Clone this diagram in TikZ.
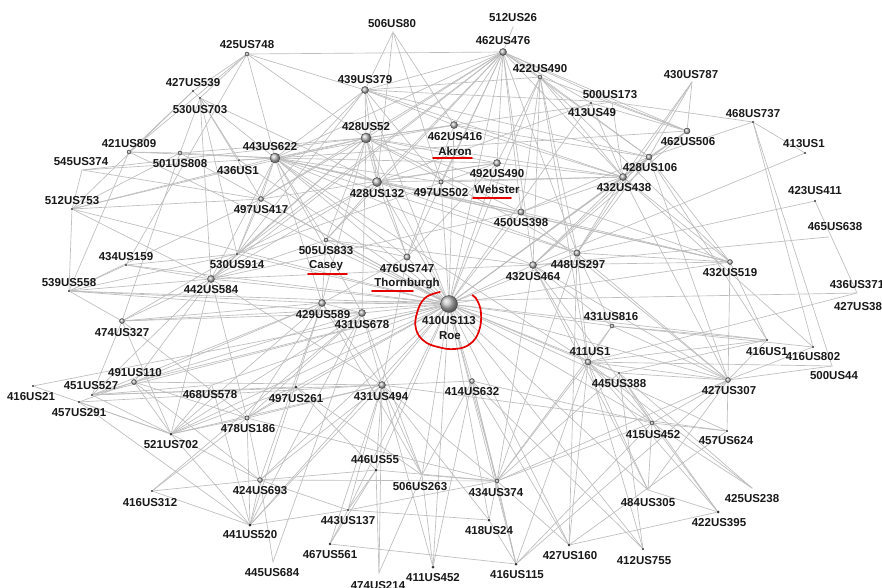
\documentclass[tikz,border=0pt]{standalone}
\usepackage{fontspec}
\setmainfont{Liberation Sans}
\pgfdeclarelayer{bg}
\pgfsetlayers{bg,main}
\tikzset{
  ball/.style={circle, inner sep=0pt, minimum size=2*#1pt, ball color=gray!50, draw=black!75, line width=0.4pt},
  sdot/.style={circle, inner sep=0pt, minimum size=2*#1pt, fill=black!80},
  gdot/.style={circle, inner sep=0pt, minimum size=1.2pt, fill=gray!70},
  lab/.style={inner sep=0pt, font=\bfseries\fontsize{11.5}{12}\selectfont, text=black!90},
  edge/.style={draw=gray!52, line width=0.65pt},
  redmark/.style={draw=red!90!black, line width=1.7pt, line cap=round}
}
\newcommand\mk[6]{\node[#4] (#1) at (#2,-#3) {}; \node[lab] (L#1) at (#5,-#6) {#1};}
\begin{document}
\begin{tikzpicture}[x=1pt,y=1pt]
\useasboundingbox (0,0) rectangle (882,-587);
\mk{425US748}{247}{54}{ball=2}{247}{45}
\mk{427US539}{193}{91}{sdot=1.1}{193}{83}
\mk{530US703}{200}{98}{sdot=1.2}{200}{110}
\mk{421US809}{129}{152}{ball=2}{129}{144}
\mk{545US374}{82}{170}{gdot}{81}{162}
\mk{501US808}{180}{153}{ball=2}{180}{164}
\mk{436US1}{239}{160}{sdot=1}{238}{171}
\mk{443US622}{275}{158}{ball=5}{270}{147}
\mk{512US753}{72}{209}{sdot=1.2}{72}{201}
\mk{497US417}{261}{199}{ball=2.5}{261}{210}
\mk{434US159}{126}{265}{sdot=1.2}{126}{257}
\mk{530US914}{237}{254}{sdot=1.2}{237}{265}
\mk{539US558}{69}{291}{sdot=1.2}{69}{283}
\mk{442US584}{211}{279}{ball=3.5}{211}{290}
\mk{474US327}{122}{321}{ball=2.5}{122}{333}
\mk{491US110}{134}{382}{ball=2.5}{135}{373}
\mk{416US21}{33}{386}{sdot=1.2}{31}{397}
\mk{451US527}{92}{395}{sdot=1.2}{91}{386}
\mk{457US291}{79}{402}{sdot=1.2}{79}{413}
\mk{468US578}{212}{385}{gdot}{210}{395}
\mk{497US261}{296}{387}{sdot=1.5}{296}{399}
\mk{478US186}{247}{418}{ball=2.2}{248}{429}
\mk{521US702}{171}{434}{sdot=1.5}{171}{445}
\mk{424US693}{260}{480}{ball=2.5}{260}{491}
\mk{416US312}{152}{491}{sdot=1.2}{150}{503}
\mk{441US520}{250}{525}{sdot=1.6}{250}{535}
\mk{445US684}{273}{562}{gdot}{272}{573}
\mk{446US55}{376}{470}{sdot=1.5}{375}{460}
\mk{506US263}{422}{475}{gdot}{420}{487}
\mk{434US374}{497}{481}{ball=2}{496}{493}
\mk{443US137}{348}{510}{sdot=1.2}{348}{521}
\mk{418US24}{489}{520}{sdot=1.5}{489}{531}
\mk{467US561}{330}{544}{sdot=1.3}{330}{555}
\mk{427US160}{569}{545}{sdot=1.3}{570}{556}
\mk{416US115}{516}{564}{sdot=1.5}{517}{575}
\mk{411US452}{433}{567}{sdot=1.5}{433}{578}
\mk{474US214}{379}{573}{gdot}{378}{586}
\mk{412US755}{643}{549}{sdot=1.2}{644}{561}
\mk{484US305}{648}{490}{gdot}{648}{503}
\mk{422US395}{718}{512}{sdot=1.5}{719}{523}
\mk{425US238}{752}{488}{gdot}{752}{499}
\mk{415US452}{652}{423}{ball=2}{653}{435}
\mk{457US624}{727}{431}{sdot=1.2}{726}{441}
\mk{427US307}{728}{380}{ball=2.5}{729}{391}
\mk{445US388}{619}{373}{sdot=1.2}{619}{384}
\mk{411US1}{588}{362}{ball=3}{590}{352}
\mk{431US816}{612}{326}{ball=2}{611}{317}
\mk{416US1}{767}{340}{sdot=1.2}{767}{352}
\mk{416US802}{813}{347}{sdot=1.2}{813}{357}
\mk{500US44}{832}{366}{gdot}{834}{376}
\mk{432US519}{730}{262}{ball=2.5}{730}{273}
\mk{436US371}{857}{293}{gdot}{857}{285}
\node[lab] (L427US38) at (858,-307) {427US38};
\mk{423US411}{815}{201}{sdot=1.2}{815}{191}
\mk{465US638}{828}{237}{gdot}{835}{227}
\mk{413US1}{805}{153}{sdot=1.1}{804}{144}
\mk{468US737}{753}{122}{sdot=1.1}{753}{114}
\mk{430US787}{692}{82}{gdot}{691}{75}
\mk{462US506}{687}{131}{ball=3}{688}{142}
\mk{428US106}{649}{157}{ball=3}{650}{168}
\mk{432US438}{623}{177}{ball=3.5}{624}{188}
\mk{500US173}{612}{102}{gdot}{610}{95}
\mk{413US49}{591}{103}{sdot=1.2}{592}{113}
\mk{422US490}{540}{77}{ball=2}{540}{69}
\mk{462US476}{503}{52}{ball=3.5}{503}{41}
\mk{512US26}{513}{27}{gdot}{513}{18}
\mk{506US80}{393}{32}{gdot}{392}{24}
\mk{439US379}{365}{90}{ball=3.5}{365}{80}
\mk{428US52}{366}{138}{ball=5}{366}{127}
\mk{462US416}{454}{125}{ball=3.5}{455}{137}
\mk{492US490}{497}{163}{ball=3.5}{497}{174}
\mk{428US132}{377}{182}{ball=4.5}{377}{194}
\mk{497US502}{441}{182}{ball=2.2}{441}{193}
\mk{450US398}{521}{212}{ball=3.2}{521}{223}
\mk{505US833}{326}{240}{ball=2}{326}{251}
\mk{476US747}{407}{257}{ball=3.2}{407}{269}
\mk{410US113}{449}{304}{ball=8.5}{449}{321}
\mk{448US297}{577}{253}{ball=3.2}{578}{265}
\mk{432US464}{533}{265}{ball=3.5}{533}{277}
\mk{429US589}{322}{303}{ball=3.5}{323}{315}
\mk{431US678}{362}{313}{ball=3.5}{362}{325}
\mk{431US494}{382}{385}{ball=3.5}{381}{397}
\mk{414US632}{472}{381}{ball=2.5}{472}{392}
% names
\node[lab] (akron) at (455,-151) {Akron};
\node[lab] (webster) at (497,-189) {Webster};
\node[lab] (casey) at (326,-266) {Casey};
\node[lab] (thorn) at (407,-284) {Thornburgh};
\node[lab] (roe) at (450,-336) {Roe};
\draw[redmark] (433,-158) -- (472,-158);
\draw[redmark] (473,-198) -- (511,-198);
\draw[redmark] (308,-274) -- (347,-274);
\draw[redmark] (372,-291) -- (413,-291);
\draw[redmark] plot[smooth, tension=0.7] coordinates {(440,-292) (425,-298) (417,-313) (416,-329) (424,-341) (438,-347) (455,-349) (470,-344) (479,-331) (481,-313) (477,-300) (472,-295) (476,-298)};
\begin{pgfonlayer}{bg}
\fill[white] (0,0) rectangle (882,-587);
\foreach \b in {462US476,462US416,428US52,439US379,443US622,497US417,530US914,442US584,539US558,474US327,491US110,451US527,521US702,478US186,424US693,441US520,443US137,446US55,506US263,434US374,418US24,416US115,427US160,415US452,427US307,445US388,411US1,431US816,432US519,416US1,432US464,448US297,450US398,432US438,428US106,462US506,492US490,497US502,428US132,476US747,505US833,429US589,431US678,431US494,414US632,413US49,422US490,501US808,421US809,512US753,434US159,457US624,484US305,412US755,416US21,497US261,468US578,436US1,411US452}
  \draw[edge] (410US113) -- (\b);
\foreach \b in {439US379,428US52,462US416,428US132,497US502,492US490,450US398,432US438,428US106,462US506,443US622,476US747,505US833,432US464,448US297,422US490,413US49,512US26,530US914,497US417,442US584,500US173,425US748}
  \draw[edge] (462US476) -- (\b);
\foreach \b in {425US748,530US703,439US379,428US52,462US416,428US132,497US417,530US914,505US833,476US747,442US584,429US589,431US678,436US1,501US808,421US809,545US374,512US753,448US297,450US398,432US464,492US490,411US1,497US502,462US506,432US519}
  \draw[edge] (443US622) -- (\b);
\foreach \b in {439US379,425US748,428US132,505US833,476US747,429US589,431US678,432US438,462US416,492US490,450US398,497US417,530US914,442US584,501US808,545US374,432US519,448US297,512US753}
  \draw[edge] (428US52) -- (\b);
\foreach \a/\b in {
 439US379/425US748,439US379/506US80,439US379/432US438,439US379/428US106,439US379/462US416,439US379/497US502,439US379/530US914,439US379/428US132,439US379/422US490,
 506US80/462US416,506US80/428US132,506US80/497US502,
 422US490/432US438,422US490/428US106,422US490/492US490,422US490/450US398,422US490/432US464,422US490/448US297,422US490/411US1,422US490/432US519,422US490/462US506,
 500US173/468US737,500US173/462US506,500US173/432US438,500US173/428US52,500US173/439US379,
 430US787/428US106,430US787/432US438,430US787/462US506,430US787/448US297,
 468US737/413US1,468US737/428US106,468US737/416US802,468US737/500US44,
 413US1/432US464,423US411/436US371,423US411/448US297,465US638/432US464,
 432US519/432US438,432US519/428US106,432US519/450US398,432US519/448US297,432US519/432US464,432US519/416US1,432US519/427US307,432US519/428US132,
 436US371/429US589,436US371/411US1,
 416US1/431US816,416US1/411US1,416US1/427US307,416US1/445US388,416US1/428US106,
 416US802/431US816,416US802/427US307,416US802/432US438,
 500US44/427US307,500US44/411US1,
 427US307/411US1,427US307/445US388,427US307/415US452,427US307/432US438,427US307/448US297,427US307/432US464,427US307/428US106,427US307/457US624,427US307/484US305,427US307/434US374,427US307/431US816,427US307/450US398,
 415US452/411US1,415US452/445US388,415US452/457US624,415US452/484US305,415US452/422US395,415US452/425US238,415US452/432US464,415US452/434US374,415US452/414US632,415US452/416US115,
 457US624/427US160,457US624/431US494,
 484US305/422US395,484US305/411US1,484US305/432US464,
 422US395/427US160,422US395/445US388,422US395/411US1,425US238/445US388,425US238/411US1,
 412US755/414US632,412US755/411US1,
 427US160/434US374,427US160/414US632,427US160/448US297,427US160/411US1,
 416US115/434US374,416US115/418US24,416US115/427US307,416US115/467US561,416US115/414US632,416US115/411US1,
 434US374/414US632,434US374/431US494,434US374/418US24,434US374/446US55,434US374/443US137,434US374/506US263,434US374/411US1,434US374/445US388,434US374/432US464,434US374/448US297,434US374/431US816,434US374/424US693,434US374/478US186,
 418US24/443US137,418US24/431US494,
 411US452/506US263,411US452/431US494,411US452/414US632,
 474US214/431US494,474US214/506US263,474US214/446US55,
 446US55/431US494,446US55/443US137,446US55/467US561,446US55/497US261,
 506US263/431US494,506US263/429US589,506US263/431US678,506US263/497US261,506US263/414US632,
 443US137/467US561,443US137/431US494,443US137/424US693,443US137/441US520,
 441US520/424US693,441US520/416US312,441US520/457US291,441US520/521US702,441US520/478US186,441US520/431US494,441US520/431US678,441US520/468US578,441US520/429US589,
 445US684/431US678,445US684/424US693,
 424US693/416US312,424US693/478US186,424US693/431US494,424US693/521US702,424US693/491US110,424US693/429US589,424US693/446US55,
 416US312/478US186,416US312/431US678,
 521US702/451US527,521US702/457US291,521US702/491US110,521US702/468US578,521US702/478US186,521US702/474US327,521US702/442US584,521US702/429US589,521US702/431US678,521US702/497US261,521US702/431US494,521US702/416US21,
 478US186/491US110,478US186/431US494,478US186/429US589,478US186/431US678,478US186/474US327,478US186/442US584,478US186/497US261,
 451US527/491US110,451US527/468US578,451US527/497US261,451US527/431US494,451US527/429US589,451US527/442US584,
 457US291/491US110,457US291/431US494,
 491US110/431US678,491US110/429US589,
 474US327/539US558,474US327/501US808,474US327/442US584,474US327/530US914,474US327/429US589,474US327/431US678,474US327/451US527,
 539US558/512US753,539US558/442US584,539US558/530US914,539US558/431US678,539US558/429US589,539US558/421US809,539US558/497US417,539US558/434US159,
 512US753/501US808,512US753/497US417,512US753/545US374,512US753/442US584,
 545US374/497US417,
 434US159/530US914,434US159/442US584,434US159/425US748,
 530US914/428US132,530US914/492US490,530US914/442US584,530US914/497US417,
 442US584/428US132,442US584/450US398,442US584/432US464,442US584/491US110,442US584/505US833,
 421US809/425US748,421US809/501US808,421US809/427US539,
 501US808/530US703,
 530US703/425US748,530US703/427US539,530US703/497US417,530US703/530US914,530US703/442US584,530US703/428US132,
 427US539/425US748,427US539/512US753,436US1/530US703,
 497US417/439US379,497US417/492US490,
 505US833/476US747,505US833/429US589,505US833/432US464,505US833/428US132,
 476US747/428US132,476US747/492US490,476US747/462US416,476US747/431US494,476US747/429US589,
 428US132/492US490,428US132/432US438,428US132/450US398,428US132/448US297,
 497US502/432US438,462US416/432US438,462US416/428US106,492US490/432US438,
 450US398/432US438,450US398/428US106,
 432US464/432US438,432US464/428US106,432US464/462US506,432US464/411US1,
 448US297/432US438,448US297/428US106,448US297/411US1,
 432US438/428US106,432US438/462US506,432US438/413US49,428US106/462US506,462US506/413US49,413US49/428US132,
 431US494/429US589,431US494/431US678,431US494/442US584,431US494/467US561,431US494/491US110,
 414US632/431US494,
 431US816/411US1,431US816/432US464,431US816/448US297,
 445US388/411US1,445US388/412US755,
 429US589/431US678}
  \draw[edge] (\a) -- (\b);
\end{pgfonlayer}
\end{tikzpicture}
\end{document}
